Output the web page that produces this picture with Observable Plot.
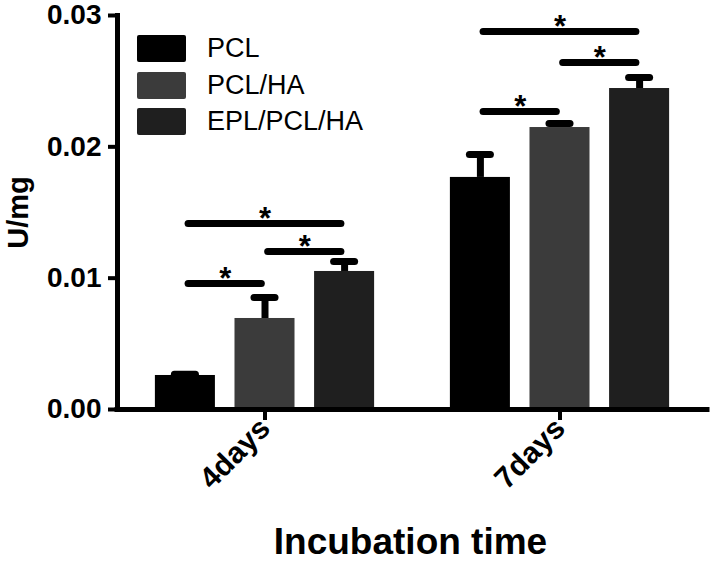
<!DOCTYPE html>
<html><head><meta charset="utf-8">
<script src="https://cdn.jsdelivr.net/npm/d3@7"></script>
<script src="https://cdn.jsdelivr.net/npm/@observablehq/plot@0.6"></script>
<style>
body{margin:0;background:#fff;}
#wrap{position:relative;width:713px;height:563px;font-family:"Liberation Sans",Arial,sans-serif;}
#legend{position:absolute;left:137px;top:26px;}
.row{display:flex;align-items:center;height:45.5px;margin-top:-9px;}
.row:first-child{margin-top:0;}
.sw{width:49px;height:27px;border-radius:2px;margin-right:21px;}
.lab{font-size:27px;color:#000;line-height:27px;}
#wrap svg g[aria-label$="tick label"]{font-weight:bold;}
</style></head><body><div id="wrap"></div>
<script>
const times = ["4days", "7days"];
const series = ["PCL", "PCL/HA", "EPL/PCL/HA"];
const colors = ["#000000", "#3b3b3b", "#1f1f1f"];
const means4days = [0.00259, 0.00693, 0.01051];
const means7days = [0.01767, 0.02147, 0.02444];
const errs4days = [0.0001, 0.0016, 0.00076];
const errs7days = [0.00175, 0.0003, 0.00084];
const yTicks = [0, 0.01, 0.02, 0.03];
// significance brackets
const sigTime = ["4days", "4days", "4days", "7days", "7days", "7days"];
const sigFrom = ["PCL", "PCL/HA", "PCL", "PCL", "PCL/HA", "PCL"];
const sigTo = ["PCL/HA", "EPL/PCL/HA", "EPL/PCL/HA", "PCL/HA", "EPL/PCL/HA", "EPL/PCL/HA"];
const sigLevel = [0.00959, 0.01203, 0.01416, 0.02269, 0.02642, 0.02878];
const sigText = ["*", "*", "*", "*", "*", "*"];

// layout (in units of bar step)
const groupGap = 3.706, barHalf = 0.377, capHalf = 0.132, xPad = 0.853, brInset = 0.04;
const pos = (t, s) => times.indexOf(t) * groupGap + series.indexOf(s);

const means = [means4days, means7days], errs = [errs4days, errs7days];
const bars = times.flatMap((t, g) => series.map((s, i) => ({
  time: t, series: s, p: pos(t, s), mean: means[g][i], err: errs[g][i]
})));
const sig = sigTime.map((t, k) => ({
  x1: pos(t, sigFrom[k]) + brInset, x2: pos(t, sigTo[k]) - brInset,
  xm: (pos(t, sigFrom[k]) + pos(t, sigTo[k])) / 2, y: sigLevel[k], text: sigText[k]
}));
const tickPos = times.map(t => pos(t, series[1]));

const plot = Plot.plot({
  width: 713, height: 563,
  marginLeft: 117, marginRight: 6, marginTop: 15, marginBottom: 154,
  style: {fontFamily: "'Liberation Sans', Arial, sans-serif", color: "#000", background: "#fff"},
  x: {domain: [-xPad, groupGap + 2 + xPad]},
  y: {domain: [0, 0.03]},
  color: {domain: series, range: colors},
  marks: [
    Plot.rectY(bars, {x1: d => d.p - barHalf, x2: d => d.p + barHalf, y1: 0, y2: "mean", fill: "series"}),
    Plot.ruleX(bars, {x: "p", y1: "mean", y2: d => d.mean + d.err, stroke: "#000", strokeWidth: 7}),
    Plot.ruleY(bars, {x1: d => d.p - capHalf, x2: d => d.p + capHalf, y: d => d.mean + d.err, stroke: "#000", strokeWidth: 7, strokeLinecap: "round"}),
    Plot.ruleY(sig, {x1: "x1", x2: "x2", y: "y", stroke: "#000", strokeWidth: 7, strokeLinecap: "round"}),
    Plot.text(sig, {x: "xm", y: "y", text: "text", dy: -4, fontSize: 31, fontWeight: "bold", fill: "#000"}),
    Plot.ruleY([0], {stroke: "#000", strokeWidth: 5, strokeLinecap: "square"}),
    Plot.frame({anchor: "left", stroke: "#000", strokeWidth: 5, strokeLinecap: "square"}),
    Plot.axisY(yTicks, {tickFormat: d => d.toFixed(2), tickSize: 9, tickPadding: 7, strokeWidth: 4, fontSize: 28, fontWeight: "bold", label: null}),
    Plot.axisX(tickPos, {tickFormat: d => times[Math.round((d - 1) / groupGap)], tickSize: 11, tickPadding: 3, strokeWidth: 4, tickRotate: -45, fontSize: 30, fontWeight: "bold", label: null}),
    Plot.text(["U/mg"], {frameAnchor: "left", dx: -99, rotate: -90, textAnchor: "middle", lineAnchor: "middle", fontSize: 29, fontWeight: "bold", fill: "#000"}),
    Plot.text(["Incubation time"], {frameAnchor: "bottom", dy: 144, dx: -2, textAnchor: "middle", fontSize: 37, fontWeight: "bold", fill: "#000"})
  ]
});
const wrap = document.getElementById("wrap");
wrap.appendChild(plot);
const legend = document.createElement("div");
legend.id = "legend";
series.forEach((s, i) => {
  const row = document.createElement("div");
  row.className = "row";
  row.innerHTML = `<div class="sw" style="background:${colors[i]}"></div><div class="lab">${s}</div>`;
  legend.appendChild(row);
});
wrap.appendChild(legend);
</script></body></html>
